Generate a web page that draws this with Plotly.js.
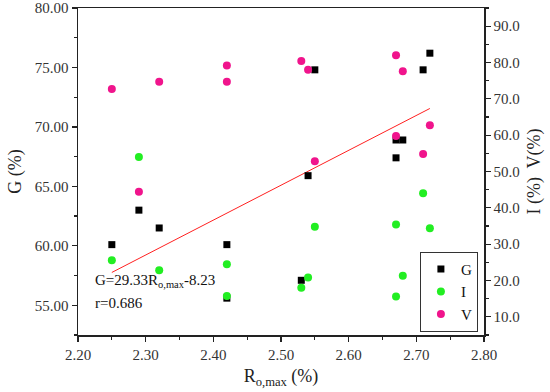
<!DOCTYPE html>
<html>
<head>
<meta charset="utf-8">
<script src="https://cdn.plot.ly/plotly-3.0.1.min.js"></script>
<style>html,body{margin:0;padding:0;background:#fff}#chart{width:550px;height:392px}</style>
</head>
<body>
<div id="chart"></div>
<script>
// Ro,max (%) of each sample
var ro = [2.25, 2.29, 2.32, 2.42, 2.42, 2.53, 2.54, 2.55, 2.67, 2.67, 2.68, 2.71, 2.72];
// G (%) left axis
var gVals = [60.1, 63.0, 61.5, 60.1, 55.6, 57.1, 65.9, 74.8, 68.9, 67.4, 68.9, 74.8, 76.2];
// I (%) right axis
var iVals = [25.6, 54.0, 22.8, 24.5, 15.7, 18.0, 20.8, 34.8, 15.6, 35.4, 21.3, 44.0, 34.4];
// V (%) right axis
var vVals = [72.7, 44.4, 74.7, 79.2, 74.7, 80.4, 78.0, 52.8, 59.8, 82.0, 77.6, 54.8, 62.7];
// fitted line G = 29.33 Ro,max - 8.23 (end points)
var fitX = [2.25, 2.72];
var fitY = [57.76, 71.55];
var fitLabel = "G=29.33R<sub>o,max</sub>-8.23";
var rLabel = "r=0.686";

var serif = "Liberation Serif, Times New Roman, serif";

var traces = [
  {x: fitX, y: fitY, mode: "lines", line: {color: "#ff2020", width: 1}, showlegend: false, hoverinfo: "skip", yaxis: "y"},
  {x: ro, y: gVals, name: "G", mode: "markers", type: "scatter", yaxis: "y",
   marker: {symbol: "square", size: 7, color: "#000000"}},
  {x: ro, y: iVals, name: "I", mode: "markers", type: "scatter", yaxis: "y2",
   marker: {symbol: "circle", size: 8, color: "#22ee22"}},
  {x: ro, y: vVals, name: "V", mode: "markers", type: "scatter", yaxis: "y2",
   marker: {symbol: "circle", size: 8, color: "#f0148c"}}
];

var layout = {
  width: 550, height: 392,
  margin: {l: 78, r: 66, t: 8, b: 57, pad: 0},
  paper_bgcolor: "#ffffff", plot_bgcolor: "#ffffff",
  font: {family: serif, size: 15, color: "#222"},
  showlegend: true,
  legend: {x: 0.985, y: 0.01, xanchor: "right", yanchor: "bottom",
    bordercolor: "#333", borderwidth: 1, bgcolor: "#fff",
    font: {family: serif, size: 15, color: "#111"}, tracegroupgap: 0, itemwidth: 30},
  xaxis: {range: [2.2, 2.8], tick0: 2.2, dtick: 0.1, tickformat: ".2f",
    showgrid: false, zeroline: false, showline: true, linecolor: "#222", linewidth: 1.5,
    mirror: true, ticks: "outside", ticklen: 5, tickwidth: 1.2, tickcolor: "#222",
    minor: {dtick: 0.05, ticks: "outside", ticklen: 3, tickwidth: 1.2, tickcolor: "#222"},
    tickfont: {family: serif, size: 15, color: "#333"},
    title: {text: "R<sub>o,max</sub> (%)", font: {family: serif, size: 18, color: "#222"}, standoff: 8}},
  yaxis: {range: [52.5, 80], tick0: 55, dtick: 5, tickformat: ".2f",
    showgrid: false, zeroline: false, showline: true, linecolor: "#222", linewidth: 1.5,
    ticks: "outside", ticklen: 5, tickwidth: 1.2, tickcolor: "#222",
    minor: {dtick: 2.5, ticks: "outside", ticklen: 3, tickwidth: 1.2, tickcolor: "#222"},
    tickfont: {family: serif, size: 15, color: "#333"},
    title: {text: "G (%)", font: {family: serif, size: 18, color: "#222"}, standoff: 8}},
  yaxis2: {range: [5, 95], tick0: 10, dtick: 10, tickformat: ".1f", overlaying: "y", side: "right",
    showgrid: false, zeroline: false, showline: true, linecolor: "#222", linewidth: 1.5,
    ticks: "outside", ticklen: 5, tickwidth: 1.2, tickcolor: "#222",
    minor: {dtick: 5, ticks: "outside", ticklen: 3, tickwidth: 1.2, tickcolor: "#222"},
    tickfont: {family: serif, size: 15, color: "#333"},
    title: {text: "I (%)  V(%)", font: {family: serif, size: 18, color: "#222"}, standoff: 8}},
  annotations: [
    {x: 2.222, y: 57.05, xref: "x", yref: "y", text: fitLabel, showarrow: false, xanchor: "left", yanchor: "middle",
     font: {family: serif, size: 15, color: "#111"}},
    {x: 2.222, y: 55.19, xref: "x", yref: "y", text: rLabel, showarrow: false, xanchor: "left", yanchor: "middle",
     font: {family: serif, size: 15, color: "#111"}}
  ]
};

Plotly.newPlot("chart", traces, layout, {displayModeBar: false, staticPlot: true});
</script>
</body>
</html>
